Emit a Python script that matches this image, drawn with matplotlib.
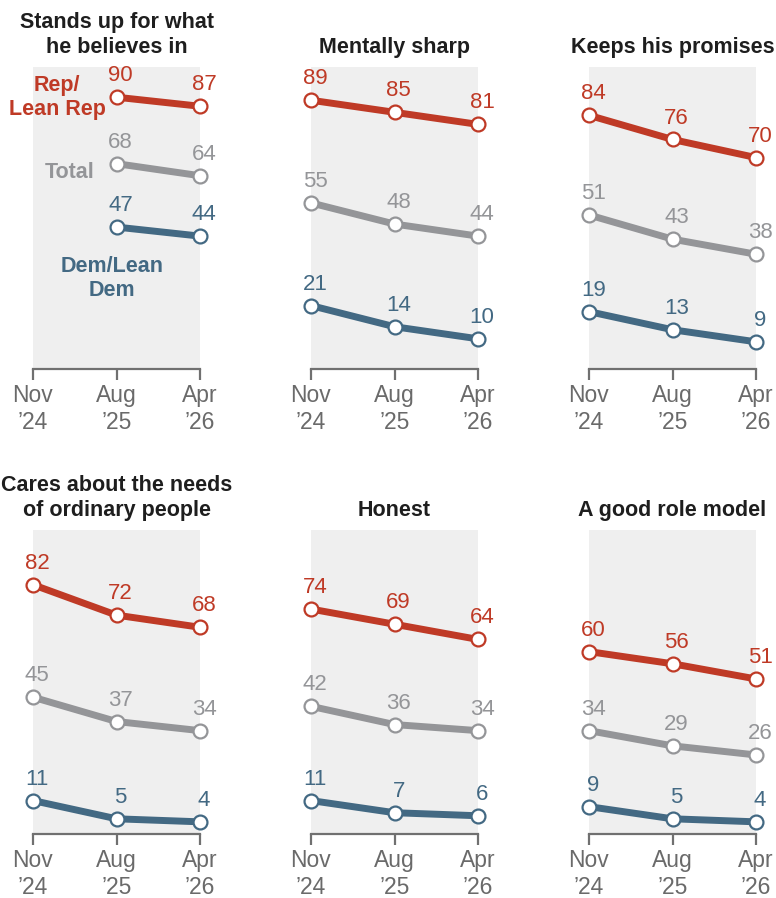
import matplotlib
matplotlib.use("Agg")
import matplotlib.pyplot as plt

plt.rcParams['font.family'] = ['Liberation Sans', 'DejaVu Sans']

periods = ["Nov\n\u201924", "Aug\n\u201925", "Apr\n\u201926"]
titles = ["Stands up for what\nhe believes in", "Mentally sharp", "Keeps his promises",
          "Cares about the needs\nof ordinary people", "Honest", "A good role model"]

rep = [[None, 90, 87], [89, 85, 81], [84, 76, 70], [82, 72, 68], [74, 69, 64], [60, 56, 51]]
total = [[None, 68, 64], [55, 48, 44], [51, 43, 38], [45, 37, 34], [42, 36, 34], [34, 29, 26]]
dem = [[None, 47, 44], [21, 14, 10], [19, 13, 9], [11, 5, 4], [11, 7, 6], [9, 5, 4]]

RED = "#BF3A26"
GRAY = "#949598"
BLUE = "#436983"
SHADE = "#EFEFEF"
AXIS = "#707070"

W, H = 776, 898
fig = plt.figure(figsize=(W / 100, H / 100), dpi=100)

cols_x = [33, 311, 589]
rows_y = [(67, 369), (530, 834)]
pw = 167

series = [(rep, RED), (total, GRAY), (dem, BLUE)]

for i in range(6):
    r, c = divmod(i, 3)
    top, bot = rows_y[r]
    ax = fig.add_axes([cols_x[c] / W, 1 - bot / H, pw / W, (bot - top) / H])
    ax.set_facecolor(SHADE)
    ax.set_xlim(0, 2)
    ax.set_ylim(0, 100)
    for s in ["top", "left", "right"]:
        ax.spines[s].set_visible(False)
    ax.spines["bottom"].set_color(AXIS)
    ax.spines["bottom"].set_linewidth(1.6)
    ax.set_yticks([])
    ax.set_xticks([0, 1, 2])
    ax.set_xticklabels(periods, fontsize=16.5, color="#6A6A6A", linespacing=1.22)
    ax.tick_params(axis="x", length=8, width=1.6, color=AXIS, pad=3)
    for lab in ax.get_xticklabels():
        lab.set_clip_on(False)

    for data, col in series:
        vals = data[i]
        xs = [k for k, v in enumerate(vals) if v is not None]
        ys = [vals[k] for k in xs]
        ax.plot(xs, ys, color=col, lw=5, solid_capstyle="round", zorder=3, clip_on=False)
        ax.plot(xs, ys, ls="none", marker="o", ms=10, mfc="white", mec=col, mew=1.6,
                zorder=4, clip_on=False)
        for x, y in zip(xs, ys):
            ax.annotate(str(y), (x, y), xytext=(3, 11.5), textcoords="offset points",
                        ha="center", va="baseline", fontsize=16, color=col,
                        annotation_clip=False)

    ax.text(0.5, 1.03, titles[i], transform=ax.transAxes, ha="center", va="bottom",
            fontsize=15.5, fontweight="bold", color="#1E1E1E", linespacing=1.22)

    if i == 0:
        ax.text(0.29, 90, "Rep/\nLean Rep", ha="center", va="center", fontsize=15.5,
                fontweight="bold", color=RED, linespacing=1.2)
        ax.text(0.44, 65, "Total", ha="center", va="center", fontsize=15.5,
                fontweight="bold", color=GRAY)
        ax.text(0.95, 30, "Dem/Lean\nDem", ha="center", va="center", fontsize=15.5,
                fontweight="bold", color=BLUE, linespacing=1.2)

fig.savefig("out.png", dpi=100)
